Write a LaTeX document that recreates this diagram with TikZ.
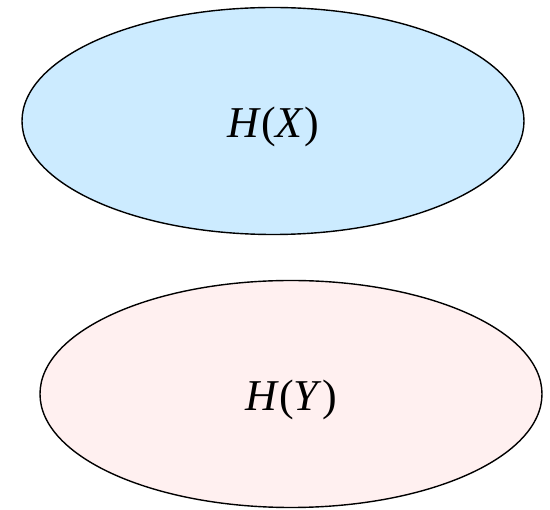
\documentclass[tikz,border=0pt]{standalone}
\usepackage{fontspec}
\setmainfont{Liberation Serif}
\usepackage{tikz}
\usetikzlibrary{shapes.geometric}
\definecolor{entXfill}{HTML}{CCEBFF}
\definecolor{entYfill}{HTML}{FFF0F0}

\begin{document}
\begin{tikzpicture}[
    x=1pt, y=-1pt,
    ent/.style={ellipse, draw=black, line width=1.4pt, minimum width=502pt, minimum height=227pt, inner sep=0pt},
    lbl/.style={inner sep=0pt, font=\fontsize{44}{48}\selectfont},
  ]
    \useasboundingbox (0,0) rectangle (550,510);
    \node[ent, fill=entXfill] (hx) at (273,121) {};
    \node[ent, fill=entYfill] (hy) at (291,394) {};
    \node[lbl] (hxlbl) at ([yshift=-6pt]hx.center) {\textit{H}(\textit{X})};
    \node[lbl] (hylbl) at ([yshift=-6pt]hy.center) {\textit{H}(\textit{Y})};
  \end{tikzpicture}
\end{document}
